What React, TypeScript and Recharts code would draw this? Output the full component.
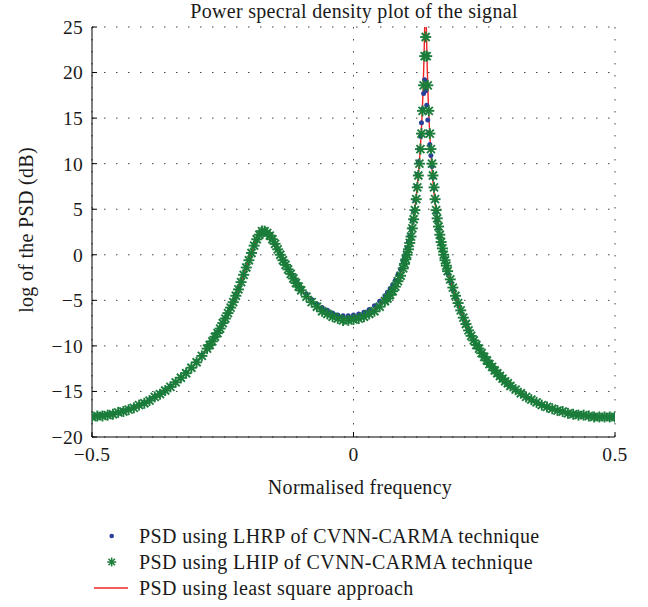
import React from 'react';
import {
  ComposedChart, Line, Scatter, XAxis, YAxis, CartesianGrid,
} from 'recharts';

if (typeof document !== 'undefined') {
  document.body.style.margin = '0';
}

// ---- Least-squares PSD (red line) ----
const lsFreq = [
  -0.5, -0.49, -0.48, -0.47, -0.46, -0.45, -0.44, -0.43, -0.42, -0.41, -0.4, -0.39, -0.38, -0.37, -0.36, -0.35, -0.34, -0.33, -0.32, -0.31, -0.3, -0.29, -0.28,
  -0.275, -0.27, -0.265, -0.26, -0.255, -0.25, -0.245, -0.24, -0.235, -0.23, -0.225, -0.22, -0.215, -0.21, -0.205, -0.2, -0.195, -0.19, -0.185, -0.18, -0.175, -0.17, -0.165, -0.16, -0.155, -0.15, -0.145, -0.14, -0.135, -0.13, -0.125, -0.12, -0.115, -0.11, -0.105, -0.1,
  -0.09, -0.08, -0.07, -0.06, -0.05, -0.04, -0.03, -0.02, -0.01, 0, 0.01, 0.02, 0.03, 0.04, 0.05, 0.06,
  0.065, 0.07, 0.075, 0.08, 0.085, 0.09, 0.095, 0.0975, 0.1, 0.1025, 0.105, 0.1075, 0.11, 0.1125, 0.115, 0.1175, 0.12, 0.1225, 0.125,
  0.127, 0.129, 0.131, 0.133, 0.135, 0.136, 0.137, 0.1377, 0.1385, 0.1395, 0.141, 0.143, 0.145, 0.147, 0.149, 0.151, 0.153, 0.155,
  0.1575, 0.16, 0.1625, 0.165, 0.1675, 0.17, 0.1725, 0.175, 0.1775, 0.18,
  0.185, 0.19, 0.195, 0.2, 0.205, 0.21, 0.215, 0.22, 0.225, 0.23, 0.235, 0.24, 0.245, 0.25, 0.255, 0.26, 0.265, 0.27, 0.275, 0.28, 0.285, 0.29, 0.295, 0.3,
  0.31, 0.32, 0.33, 0.34, 0.35, 0.36, 0.37, 0.38, 0.39, 0.4, 0.41, 0.42, 0.43, 0.44, 0.45, 0.46, 0.47, 0.48, 0.49, 0.5,
];
const lsPsd = [
  -17.78, -17.73, -17.66, -17.57, -17.46, -17.32, -17.16, -16.97, -16.76, -16.52, -16.26, -15.97, -15.65, -15.29, -14.91, -14.49, -14.03, -13.54, -13.0, -12.41, -11.77, -11.07, -10.31,
  -9.9, -9.47, -9.02, -8.55, -8.05, -7.53, -6.99, -6.41, -5.8, -5.15, -4.48, -3.77, -3.01, -2.23, -1.42, -0.6, 0.22, 0.99, 1.67, 2.2, 2.55, 2.61, 2.43, 2.14, 1.72, 1.22, 0.62, 0.04, -0.53, -1.07, -1.57, -2.09, -2.56, -3.0, -3.41, -3.79,
  -4.48, -5.08, -5.56, -6.02, -6.33, -6.62, -6.83, -6.97, -6.97, -6.91, -6.76, -6.59, -6.31, -5.96, -5.48, -4.86,
  -4.54, -4.17, -3.75, -3.26, -2.71, -2.04, -1.26, -0.81, -0.3, 0.22, 0.82, 1.48, 2.26, 3.09, 4.08, 5.15, 6.37, 7.83, 9.52,
  11.05, 12.87, 15.11, 17.96, 22.01, 24.71, 27.49, 28.37, 27.22, 24.36, 20.5, 16.81, 14.15, 12.07, 10.18, 8.66, 7.32, 6.13,
  5.02, 3.96, 3.0, 2.14, 1.34, 0.61, -0.07, -0.7, -1.3, -1.86,
  -2.79, -3.72, -4.56, -5.33, -6.15, -6.92, -7.63, -8.32, -8.87, -9.38, -9.86, -10.32, -10.76, -11.18, -11.57, -11.95, -12.31, -12.65, -12.97, -13.29, -13.59, -13.86, -14.14, -14.4,
  -14.83, -15.23, -15.59, -15.92, -16.21, -16.47, -16.7, -16.91, -17.09, -17.24, -17.36, -17.47, -17.55, -17.61, -17.69, -17.75, -17.79, -17.81, -17.81, -17.78,
];

// ---- CVNN-CARMA estimates (markers) ----
const markerFreq = [
  -0.5, -0.49, -0.48, -0.47, -0.46, -0.45, -0.44, -0.43, -0.42, -0.41, -0.4, -0.39, -0.38, -0.37, -0.36, -0.35, -0.34, -0.33, -0.32, -0.31, -0.3, -0.29, -0.28,
  -0.275, -0.27, -0.265, -0.26, -0.255, -0.25, -0.245, -0.24, -0.235, -0.23, -0.225, -0.22, -0.215, -0.21, -0.205, -0.2, -0.195, -0.19, -0.185, -0.18, -0.175, -0.17, -0.165, -0.16, -0.155, -0.15, -0.145, -0.14, -0.135, -0.13, -0.125, -0.12, -0.115, -0.11, -0.105, -0.1,
  -0.09, -0.08, -0.07, -0.06, -0.05, -0.04, -0.03, -0.02, -0.01, 0, 0.01, 0.02, 0.03, 0.04, 0.05, 0.06,
  0.065, 0.07, 0.075, 0.08, 0.085, 0.09, 0.095, 0.0975, 0.1, 0.1025, 0.105, 0.1075, 0.11, 0.1125, 0.115, 0.1175,
  0.12, 0.122, 0.124, 0.126, 0.128, 0.13, 0.132, 0.134, 0.136, 0.138, 0.14, 0.142, 0.144, 0.146, 0.148, 0.15, 0.152, 0.154, 0.156,
  0.158, 0.16, 0.1625, 0.165, 0.1675, 0.17, 0.1725, 0.175, 0.1775, 0.18,
  0.185, 0.19, 0.195, 0.2, 0.205, 0.21, 0.215, 0.22, 0.225, 0.23, 0.235, 0.24, 0.245, 0.25, 0.255, 0.26, 0.265, 0.27, 0.275, 0.28, 0.285, 0.29, 0.295, 0.3,
  0.31, 0.32, 0.33, 0.34, 0.35, 0.36, 0.37, 0.38, 0.39, 0.4, 0.41, 0.42, 0.43, 0.44, 0.45, 0.46, 0.47, 0.48, 0.49, 0.5,
];
const lhrpPsd = [
  -17.7, -17.7, -17.6, -17.5, -17.4, -17.3, -17.1, -16.9, -16.7, -16.5, -16.2, -15.9, -15.6, -15.2, -14.9, -14.4, -14.0, -13.5, -12.9, -12.4, -11.7, -11.0, -10.3,
  -9.9, -9.4, -9.0, -8.5, -8.0, -7.5, -6.9, -6.4, -5.8, -5.1, -4.4, -3.7, -3.0, -2.2, -1.4, -0.6, 0.2, 1.0, 1.7, 2.2, 2.5, 2.6, 2.4, 2.1, 1.7, 1.2, 0.6, 0.1, -0.5, -1.0, -1.5, -2.0, -2.5, -2.9, -3.3, -3.7,
  -4.3, -4.9, -5.4, -5.8, -6.1, -6.4, -6.6, -6.7, -6.7, -6.6, -6.5, -6.3, -6.0, -5.6, -5.1, -4.5,
  -4.1, -3.7, -3.3, -2.8, -2.2, -1.6, -0.8, -0.3, 0.2, 0.8, 1.4, 2.1, 2.9, 3.8, 4.8, 6.0,
  7.5, 8.8, 10.2, 11.6, 13.0, 14.5, 16.0, 17.7, 19.2, 18.0, 16.4, 14.8, 13.4, 12.1, 10.9, 9.7, 8.5, 7.3, 6.0,
  4.7, 3.8, 2.9, 2.0, 1.2, 0.5, -0.2, -0.8, -1.4, -2.0,
  -2.9, -3.8, -4.6, -5.4, -6.2, -6.9, -7.6, -8.3, -8.9, -9.4, -9.9, -10.3, -10.8, -11.2, -11.6, -11.9, -12.3, -12.6, -13.0, -13.3, -13.6, -13.9, -14.1, -14.4,
  -14.8, -15.2, -15.6, -15.9, -16.2, -16.5, -16.7, -16.9, -17.1, -17.2, -17.4, -17.5, -17.5, -17.6, -17.7, -17.7, -17.8, -17.8, -17.8, -17.8,
];
const lhipPsd = [
  -17.8, -17.7, -17.7, -17.6, -17.5, -17.3, -17.2, -17.0, -16.8, -16.5, -16.3, -16.0, -15.6, -15.3, -14.9, -14.5, -14.0, -13.5, -13.0, -12.4, -11.8, -11.1, -10.3,
  -9.9, -9.5, -9.0, -8.6, -8.1, -7.5, -7.0, -6.4, -5.8, -5.2, -4.5, -3.8, -3.0, -2.2, -1.4, -0.6, 0.2, 1.0, 1.7, 2.2, 2.6, 2.6, 2.4, 2.1, 1.7, 1.2, 0.6, 0.0, -0.6, -1.1, -1.6, -2.1, -2.6, -3.1, -3.5, -3.9,
  -4.6, -5.2, -5.7, -6.2, -6.5, -6.8, -7.0, -7.2, -7.2, -7.1, -7.0, -6.8, -6.5, -6.2, -5.7, -5.1,
  -4.8, -4.4, -4.0, -3.5, -2.9, -2.3, -1.5, -1.0, -0.5, 0.0, 0.6, 1.3, 2.0, 2.9, 3.9, 4.9,
  6.1, 7.4, 8.7, 10.0, 11.6, 13.3, 15.8, 18.6, 21.8, 23.9, 21.8, 18.6, 15.8, 13.3, 11.6, 10.0, 8.7, 7.4, 6.1,
  4.9, 4.0, 3.1, 2.2, 1.4, 0.7, 0.0, -0.6, -1.2, -1.8,
  -2.7, -3.6, -4.5, -5.3, -6.1, -6.9, -7.6, -8.3, -8.9, -9.4, -9.9, -10.3, -10.8, -11.2, -11.6, -12.0, -12.3, -12.7, -13.0, -13.3, -13.6, -13.9, -14.1, -14.4,
  -14.8, -15.2, -15.6, -15.9, -16.2, -16.5, -16.7, -16.9, -17.1, -17.2, -17.4, -17.5, -17.6, -17.6, -17.7, -17.8, -17.8, -17.8, -17.8, -17.8,
];

const xTicks = [-0.5, 0, 0.5];
const yTicks = [-20, -15, -10, -5, 0, 5, 10, 15, 20, 25];

const legendLabels = [
  'PSD using LHRP of CVNN-CARMA technique',
  'PSD using LHIP of CVNN-CARMA technique',
  'PSD using least square approach',
];

const BLUE = '#2a3f97';
const GREEN = '#1b7d3a';
const RED = '#ee2424';
const FONT = '"Liberation Serif", "DejaVu Serif", serif';
const TXT = '#1a1a1a';

const lsData = lsFreq.map((f, i) => ({ f, v: lsPsd[i] }));
const lhrpData = markerFreq.map((f, i) => ({ f, v: lhrpPsd[i] }));
const lhipData = markerFreq.map((f, i) => ({ f, v: lhipPsd[i] }));

const fmt = (v: number) => (v < 0 ? '\u2212' + Math.abs(v) : String(v));

const Dot = (p: any) =>
  p.cx == null ? null : <circle cx={p.cx} cy={p.cy} r={2.5} fill={BLUE} />;

const Star = (p: any) => {
  if (p.cx == null) return null;
  const { cx, cy } = p;
  return (
    <g stroke={GREEN} strokeWidth={1.9}>
      <line x1={cx - 5.5} y1={cy} x2={cx + 5.5} y2={cy} />
      <line x1={cx} y1={cy - 5.5} x2={cx} y2={cy + 5.5} />
      <line x1={cx - 4} y1={cy - 4} x2={cx + 4} y2={cy + 4} />
      <line x1={cx - 4} y1={cy + 4} x2={cx + 4} y2={cy - 4} />
    </g>
  );
};

const tickStyle = { fontFamily: FONT, fontSize: 19.5, fill: TXT, letterSpacing: 0.3 };
const textBase: React.CSSProperties = { position: 'absolute', fontSize: 20, lineHeight: 1, whiteSpace: 'nowrap', letterSpacing: 0.3 };

export default function App() {
  return (
    <div style={{ position: 'relative', width: 648, height: 607, fontFamily: FONT, color: TXT, background: '#fff', overflow: 'hidden' }}>
      <div style={{ position: 'absolute', left: 8, top: 8 }}>
        <ComposedChart
          width={632}
          height={590}
          margin={{ top: 19, right: 25, left: 0, bottom: 121 }}
        >
          <CartesianGrid
            stroke="#444"
            strokeDasharray="1.5 10.5"
            strokeWidth={1}
          />
          <XAxis
            dataKey="f"
            type="number"
            domain={[-0.5, 0.5]}
            ticks={xTicks}
            interval={0}
            allowDataOverflow
            tickFormatter={fmt}
            height={40}
            tickSize={-5}
            tickMargin={15}
            stroke="#000"
            tick={tickStyle}
          />
          <XAxis
            xAxisId="top"
            orientation="top"
            type="number"
            domain={[-0.5, 0.5]}
            ticks={xTicks}
            interval={0}
            height={0}
            tickSize={-5}
            tick={false}
            stroke="#000"
          />
          <YAxis
            type="number"
            domain={[-20, 25]}
            ticks={yTicks}
            interval={0}
            allowDataOverflow
            tickFormatter={fmt}
            width={84}
            tickSize={-5}
            tickMargin={14}
            stroke="#000"
            tick={tickStyle}
          />
          <YAxis
            yAxisId="right"
            orientation="right"
            type="number"
            domain={[-20, 25]}
            ticks={yTicks}
            interval={0}
            width={0}
            tickSize={-5}
            tick={false}
            stroke="#000"
          />
          <Scatter
            data={lhrpData}
            dataKey="v"
            shape={Dot}
            isAnimationActive={false}
          />
          <Scatter
            data={lhipData}
            dataKey="v"
            shape={Star}
            isAnimationActive={false}
          />
          <Line
            data={lsData}
            dataKey="v"
            type="linear"
            stroke={RED}
            strokeWidth={1.4}
            dot={false}
            activeDot={false}
            isAnimationActive={false}
          />
        </ComposedChart>
      </div>

      <div style={{ ...textBase, left: 354, top: 1, transform: 'translateX(-50%)' }}>
        Power specral density plot of the signal
      </div>
      <div style={{ ...textBase, left: 360, top: 477, transform: 'translateX(-50%)' }}>
        Normalised frequency
      </div>
      <div style={{ ...textBase, left: 26, top: 230, transform: 'translate(-50%, -50%) rotate(-90deg)' }}>
        log of the PSD (dB)
      </div>

      {legendLabels.map((lab, i) => (
        <div key={lab} style={{ position: 'absolute', left: 92, top: 523 + i * 26, height: 26, display: 'flex', alignItems: 'center', whiteSpace: 'nowrap' }}>
          <svg width={40} height={26} style={{ display: 'block' }}>
            {i === 0 && <circle cx={19.7} cy={13} r={2.3} fill={BLUE} />}
            {i === 1 && (
              <g stroke={GREEN} strokeWidth={1.5}>
                <line x1={15.2} y1={13} x2={24.2} y2={13} />
                <line x1={19.7} y1={8.5} x2={19.7} y2={17.5} />
                <line x1={16.5} y1={9.8} x2={22.9} y2={16.2} />
                <line x1={16.5} y1={16.2} x2={22.9} y2={9.8} />
              </g>
            )}
            {i === 2 && <line x1={2} y1={13} x2={36} y2={13} stroke={RED} strokeWidth={1.3} />}
          </svg>
          <span style={{ marginLeft: 7, fontSize: 20, letterSpacing: 0.4 }}>{lab}</span>
        </div>
      ))}
    </div>
  );
}
